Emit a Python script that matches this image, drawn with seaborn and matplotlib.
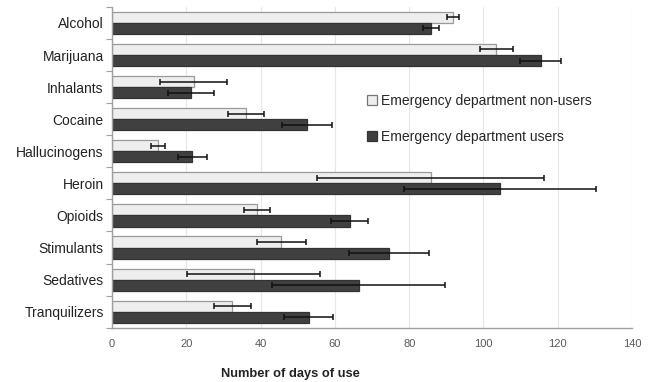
import matplotlib
matplotlib.use("Agg")
import matplotlib.pyplot as plt
import numpy as np
import pandas as pd
import seaborn as sns

# Substances (top to bottom)
substances = ["Alcohol", "Marijuana", "Inhalants", "Cocaine", "Hallucinogens",
              "Heroin", "Opioids", "Stimulants", "Sedatives", "Tranquilizers"]

# Mean number of days of use
non_users = [91.8, 103.5, 22.0, 36.0, 12.4, 85.8, 38.9, 45.6, 38.1, 32.4]
users = [85.8, 115.4, 21.2, 52.5, 21.6, 104.4, 64.0, 74.5, 66.4, 53.0]

# Error bar half widths
non_users_err = [1.6, 4.4, 9.0, 4.8, 2.0, 30.5, 3.5, 6.5, 18.0, 5.0]
users_err = [2.2, 5.5, 6.2, 6.8, 3.9, 25.8, 5.0, 10.7, 23.3, 6.6]

groups = ["Emergency department non-users", "Emergency department users"]

df = pd.DataFrame({
    "substance": substances * 2,
    "days": non_users + users,
    "err": non_users_err + users_err,
    "group": [groups[0]] * len(substances) + [groups[1]] * len(substances),
})

sns.set_style("white")
plt.rcParams["font.family"] = ["Liberation Sans", "DejaVu Sans"]

fig, ax = plt.subplots(figsize=(6.55, 3.82), dpi=100)
fig.subplots_adjust(left=0.171, right=0.965, top=0.982, bottom=0.142)

palette = {groups[0]: "#eeeeee", groups[1]: "#404040"}
edges = {groups[0]: "#9a9a9a", groups[1]: "#333333"}
sns.barplot(data=df, y="substance", x="days", hue="group", orient="h",
            palette=palette, errorbar=None, width=0.69, ax=ax,
            linewidth=0.9, saturation=1)

# edge colours per series + error bars at bar centres
for container, grp in zip(ax.containers, groups):
    errs = df.loc[df["group"] == grp, "err"].values
    ys, xs = [], []
    for bar in container:
        bar.set_edgecolor(edges[grp])
        ys.append(bar.get_y() + bar.get_height() / 2)
        xs.append(bar.get_width())
    ax.errorbar(xs, ys, xerr=errs, fmt="none", ecolor="#111111",
                elinewidth=1.1, capsize=2.5, capthick=1.1, zorder=5)

ax.set_xlim(0, 140)
ax.set_ylim(len(substances) - 0.5, -0.5)
ax.set_xticks(np.arange(0, 141, 20))
ax.xaxis.grid(True, color="#e6e6e6", linewidth=0.8)
ax.set_axisbelow(True)

for side in ["top", "right"]:
    ax.spines[side].set_visible(False)
for side in ["left", "bottom"]:
    ax.spines[side].set_color("#a0a0a0")
    ax.spines[side].set_linewidth(1.0)

ax.tick_params(axis="x", labelsize=8, labelcolor="#595959", length=0, pad=8)
ax.tick_params(axis="y", labelsize=10, labelcolor="#222222", length=0, pad=6)
ax.set_yticks(np.arange(-0.5, len(substances), 1), minor=True)
ax.tick_params(axis="y", which="minor", left=True, length=4,
               color="#a0a0a0", width=0.8)

ax.set_ylabel("")
ax.set_xlabel("Number of days of use", fontsize=9.3, fontweight="bold",
              color="#222222")
ax.xaxis.set_label_coords(0.344, -0.125)

leg = ax.legend(loc="upper left", bbox_to_anchor=(0.466, 0.768), frameon=False,
                fontsize=10, handlelength=0.7, handleheight=0.7,
                handletextpad=0.3, labelspacing=1.6)
for handle, grp in zip(leg.legend_handles, groups):
    handle.set_edgecolor("#777777" if grp == groups[0] else "#333333")
    handle.set_linewidth(0.9)

fig.savefig("out.png", dpi=100)
